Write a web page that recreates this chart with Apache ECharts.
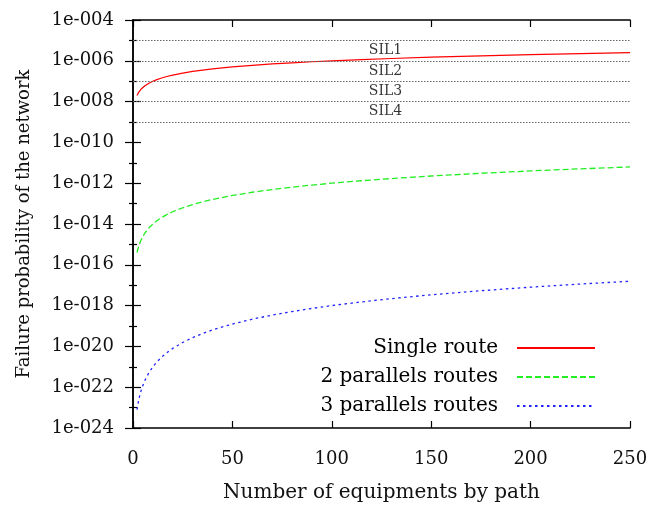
<!DOCTYPE html>
<html>
<head>
<meta charset="utf-8">
<script src="https://cdn.jsdelivr.net/npm/echarts@6/dist/echarts.min.js"></script>
<style>html,body{margin:0;padding:0;background:#fff;}#c{width:669px;height:512px;}</style>
</head>
<body>
<div id="c"></div>
<script>
// equipments per path (x) sampled along the curves
const equipments = [2,3,4,5,6,7,8,10,12,14,17,20,25,30,35,40,50,60,70,80,90,100,115,130,150,175,200,225,250];
const singleRoute = [2e-8,3e-8,4e-8,5e-8,6e-8,7e-8,8e-8,1e-7,1.2e-7,1.4e-7,1.7e-7,2e-7,2.5e-7,3e-7,3.5e-7,4e-7,5e-7,6e-7,7e-7,8e-7,9e-7,1e-6,1.15e-6,1.3e-6,1.5e-6,1.75e-6,2e-6,2.25e-6,2.5e-6];
const twoParallel = [4e-16,9e-16,1.6e-15,2.5e-15,3.6e-15,4.9e-15,6.4e-15,1e-14,1.44e-14,1.96e-14,2.89e-14,4e-14,6.25e-14,9e-14,1.225e-13,1.6e-13,2.5e-13,3.6e-13,4.9e-13,6.4e-13,8.1e-13,1e-12,1.32e-12,1.69e-12,2.25e-12,3.06e-12,4e-12,5.06e-12,6.25e-12];
const threeParallel = [8e-24,2.7e-23,6.4e-23,1.25e-22,2.16e-22,3.43e-22,5.12e-22,1e-21,1.73e-21,2.74e-21,4.91e-21,8e-21,1.56e-20,2.7e-20,4.29e-20,6.4e-20,1.25e-19,2.16e-19,3.43e-19,5.12e-19,7.29e-19,1e-18,1.52e-18,2.2e-18,3.38e-18,5.36e-18,8e-18,1.14e-17,1.56e-17];
const seriesNames = ['Single route','2 parallels routes','3 parallels routes'];
const silBounds = [1e-5,1e-6,1e-7,1e-8,1e-9];
const silNames = ['SIL1','SIL2','SIL3','SIL4'];
const silLabelX = 127;
const xTicks = [0,50,100,150,200,250];
// y axis: decades (log10 of probability), labelled every 2 decades
const yDecadeMin = -24, yDecadeMax = -4, yDecadeStep = 2;

const FONT = 'DejaVu Serif';
const lg = v => Math.log10(v);
const zipLog = (xs, ys) => xs.map((x, i) => [x, lg(ys[i])]);
function fmtExp(e) {
  e = Math.round(e);
  return '1e' + (e < 0 ? '-' : '+') + String(Math.abs(e)).padStart(3, '0');
}
const silLabelData = silNames.map((n, i) => [silLabelX, (lg(silBounds[i]) + lg(silBounds[i + 1])) / 2, n]);

function yAx(pos, withLabel) {
  return {
    type: 'value', position: pos, min: yDecadeMin, max: yDecadeMax, interval: yDecadeStep,
    axisLine: {show: true, lineStyle: {color: '#000', width: 1.5}},
    axisTick: {show: true, inside: true, length: 8, lineStyle: {color: '#000', width: 1.2}},
    minorTick: {show: true, splitNumber: 2, length: 4, lineStyle: {color: '#000', width: 1.2}},
    axisLabel: {show: withLabel, formatter: fmtExp, margin: 19, fontFamily: FONT, fontSize: 18, color: '#111'},
    splitLine: {show: false},
    name: withLabel ? 'Failure probability of the network' : '',
    nameLocation: 'middle', nameGap: 100,
    nameTextStyle: {fontFamily: FONT, fontSize: 18, color: '#111'}
  };
}
function xAx(pos, withLabel) {
  return {
    type: 'value', position: pos, min: xTicks[0], max: xTicks[xTicks.length - 1], interval: xTicks[1] - xTicks[0],
    axisLine: {show: true, lineStyle: {color: '#000', width: 1.5}},
    axisTick: {show: true, inside: true, length: 7, lineStyle: {color: '#000', width: 1.2}},
    axisLabel: {show: withLabel, margin: 22, fontFamily: FONT, fontSize: 18, color: '#111'},
    splitLine: {show: false},
    name: withLabel ? 'Number of equipments by path' : '',
    nameLocation: 'middle', nameGap: 55,
    nameTextStyle: {fontFamily: FONT, fontSize: 20, color: '#111'}
  };
}

const chart = echarts.init(document.getElementById('c'), null, {renderer: 'canvas'});
chart.setOption({
  animation: false,
  backgroundColor: '#fff',
  grid: {left: 133, right: 39, top: 20, bottom: 84, containLabel: false},
  xAxis: [xAx('bottom', true), xAx('top', false)],
  yAxis: [yAx('left', true), yAx('right', false)],
  legend: {
    data: seriesNames, orient: 'vertical', align: 'right', right: 68, top: 333, itemGap: 9,
    itemWidth: 78, itemHeight: 14,
    itemStyle: {opacity: 0},
    textStyle: {fontFamily: FONT, fontSize: 20, color: '#000', padding: [0, 14, 0, 0]},
    selectedMode: false
  },
  series: [
    {
      name: 'SIL labels', type: 'scatter', data: silLabelData, symbolSize: 0, silent: true,
      label: {show: true, position: 'inside', formatter: p => p.data[2], fontFamily: FONT, fontSize: 14, color: '#000'},
      markLine: {
        silent: true, symbol: 'none', label: {show: false},
        lineStyle: {color: '#666', width: 1, type: [1.5, 1.5]},
        data: silBounds.map(b => ({yAxis: lg(b)}))
      }
    },
    {name: seriesNames[0], type: 'line', data: zipLog(equipments, singleRoute), symbol: 'none', showSymbol: false, color: '#ff0000',
     lineStyle: {color: '#ff0000', width: 1.2, type: 'solid'}},
    {name: seriesNames[1], type: 'line', data: zipLog(equipments, twoParallel), symbol: 'none', showSymbol: false, color: '#22ee22',
     lineStyle: {color: '#22ee22', width: 1.3, type: [6, 3]}},
    {name: seriesNames[2], type: 'line', data: zipLog(equipments, threeParallel), symbol: 'none', showSymbol: false, color: '#2222ff',
     lineStyle: {color: '#2222ff', width: 1.3, type: [2.5, 3.5]}}
  ]
});
</script>
</body>
</html>
